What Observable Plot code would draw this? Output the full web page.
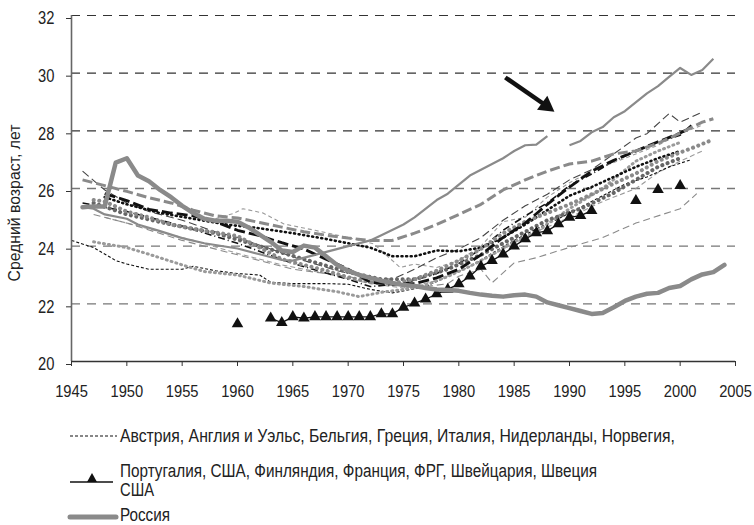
<!DOCTYPE html>
<html><head><meta charset="utf-8">
<script src="https://cdn.jsdelivr.net/npm/d3@7"></script>
<script src="https://cdn.jsdelivr.net/npm/@observablehq/plot@0.6"></script>
<style>
body{margin:0;background:#fff;}
#chart{position:relative;width:754px;height:525px;overflow:hidden;}
</style></head><body><div id="chart"></div>
<script>
const FONT = '"Liberation Sans", Arial, sans-serif';

// ---- tick labels / texts ----
const xTicks = [1945,1950,1955,1960,1965,1970,1975,1980,1985,1990,1995,2000,2005];
const yTicks = [20,22,24,26,28,30,32];
const yLabel = "Средний возраст, лет";
const legendRow1 = "Австрия, Англия и Уэльс, Бельгия, Греция, Италия, Нидерланды, Норвегия,";
const legendRow2a = "Португалия, США, Финляндия, Франция, ФРГ, Швейцария, Швеция";
const legendRow2b = "США";
const legendRow3 = "Россия";

// ---- series values [year, mean age] ----
const russia = [[1946,25.35],[1947,25.38],[1948,25.38],[1949,26.9],[1950,27.05],[1951,26.45],[1952,26.25],[1953,25.95],[1954,25.7],[1955,25.4],[1956,25.15],[1957,24.95],[1958,24.88],[1959,24.88],[1960,24.85],[1961,24.65],[1962,24.4],[1963,24.15],[1964,23.85],[1965,23.8],[1966,24.02],[1967,23.95],[1968,23.65],[1969,23.35],[1970,23.15],[1971,23.0],[1972,22.9],[1973,22.8],[1974,22.72],[1975,22.65],[1976,22.62],[1977,22.55],[1978,22.5],[1979,22.48],[1980,22.45],[1981,22.38],[1982,22.32],[1983,22.28],[1984,22.25],[1985,22.3],[1986,22.32],[1987,22.25],[1988,22.05],[1989,21.95],[1990,21.85],[1991,21.75],[1992,21.65],[1993,21.68],[1994,21.88],[1995,22.1],[1996,22.25],[1997,22.35],[1998,22.38],[1999,22.55],[2000,22.62],[2001,22.85],[2002,23.02],[2003,23.1],[2004,23.35]];

const usa = [[1960,21.3],[1963,21.5],[1964,21.35],[1965,21.55],[1966,21.5],[1967,21.55],[1968,21.55],[1969,21.55],[1970,21.55],[1971,21.55],[1972,21.55],[1973,21.65],[1974,21.65],[1975,21.88],[1976,22.02],[1977,22.16],[1978,22.34],[1979,22.5],[1980,22.69],[1981,22.96],[1982,23.3],[1983,23.5],[1984,23.72],[1985,24.0],[1986,24.25],[1987,24.46],[1988,24.53],[1989,24.77],[1990,25.0],[1991,25.06],[1992,25.23],[1996,25.58],[1998,25.96],[2000,26.1]];

const seriesA = [[1946,25.35],[1947,25.3],[1948,25.1],[1950,24.95],[1951,24.75],[1953,24.52],[1955,24.28],[1957,24.1],[1960,23.92],[1962,23.72],[1964,23.52],[1965,23.5],[1967,23.7],[1970,24.0],[1972,24.2],[1973,24.38],[1975,24.75],[1976,25.0],[1978,25.6],[1979,25.82],[1981,26.45],[1983,26.85],[1984,27.05],[1985,27.3],[1986,27.5],[1987,27.52],[1988,27.82],[1989,null],[1990,27.5],[1991,27.65],[1992,27.95],[1993,28.13],[1994,28.47],[1995,28.68],[1997,29.3],[1998,29.55],[1999,29.87],[2000,30.18],[2001,29.94],[2002,30.11],[2003,30.5]];

const seriesB = [[1946,26.3],[1948,26.1],[1950,25.9],[1952,25.68],[1954,25.5],[1956,25.25],[1958,25.05],[1960,24.98],[1962,24.82],[1964,24.66],[1966,24.5],[1968,24.38],[1970,24.28],[1972,24.2],[1974,24.2],[1976,24.45],[1978,24.75],[1980,25.1],[1982,25.45],[1984,25.95],[1986,26.3],[1988,26.6],[1990,26.85],[1992,26.95],[1994,27.2],[1996,27.3],[1998,27.57],[2000,27.92],[2002,28.3],[2003,28.42]];

const seriesC = [[1948,25.82],[1950,25.58],[1952,25.28],[1954,25.15],[1956,25.05],[1958,24.85],[1960,24.55],[1962,24.36],[1964,24.12],[1966,23.9],[1968,23.55],[1970,23.2],[1972,22.75],[1974,22.68],[1976,22.7],[1978,22.9],[1980,23.2],[1982,23.7],[1984,24.3],[1986,24.8],[1988,25.45],[1990,26.05],[1992,26.6],[1994,26.98],[1996,27.3],[1998,27.62],[2000,27.92],[2001,28.13]];

const seriesD = [[1947,25.6],[1948,25.55],[1950,25.2],[1952,25.0],[1954,24.75],[1956,24.6],[1958,24.48],[1960,24.35],[1962,23.95],[1964,23.55],[1966,23.35],[1968,23.15],[1970,22.92],[1972,22.75],[1974,22.7],[1976,22.85],[1978,23.15],[1980,23.5],[1982,23.9],[1984,24.45],[1986,24.85],[1988,25.15],[1990,25.45],[1992,25.8],[1994,26.17],[1996,26.52],[1998,26.95],[2000,27.25],[2001,27.39],[2003,27.7]];

const seriesD2 = [[1947,25.5],[1950,25.1],[1954,24.75],[1958,24.45],[1962,24.0],[1966,23.55],[1970,23.1],[1973,22.85],[1976,22.85],[1979,23.2],[1982,23.7],[1985,24.3],[1988,24.9],[1991,25.3],[1994,25.85],[1996,26.3],[1998,26.75],[2000,27.05]];

const seriesE = [[1948,25.7],[1950,25.45],[1953,25.15],[1956,24.95],[1959,24.75],[1962,24.62],[1965,24.45],[1968,24.25],[1970,24.1],[1972,23.95],[1974,23.65],[1976,23.65],[1978,23.85],[1980,23.82],[1982,23.95],[1984,24.3],[1986,24.75],[1988,25.25],[1990,25.75],[1992,26.05],[1994,26.4],[1996,26.75],[1998,27.05],[2000,27.3]];

const seriesF = [[1945,24.2],[1947,23.95],[1949,23.5],[1950,23.38],[1952,23.2],[1955,23.2],[1956,23.3],[1958,23.15],[1960,23.05],[1962,23.0],[1963,22.75],[1965,22.7],[1968,22.7],[1970,22.68],[1972,22.5],[1974,22.38],[1975,22.45],[1977,22.6],[1979,22.95],[1981,23.3],[1983,23.75],[1985,24.2],[1987,24.6],[1989,24.95],[1991,25.35],[1993,25.75],[1995,26.15],[1997,26.4],[1999,26.75],[2001,27.0]];

const seriesG = [[1947,24.15],[1950,23.95],[1952,23.72],[1955,23.35],[1957,23.12],[1960,23.0],[1963,22.72],[1966,22.6],[1969,22.42],[1971,22.25],[1973,22.4],[1975,22.5],[1977,22.65],[1979,22.95],[1981,23.3],[1983,23.7],[1985,24.15],[1987,24.5],[1990,25.3],[1993,26.0],[1996,26.95],[1998,27.3],[2000,27.6]];

const seriesH = [[1947,25.1],[1950,24.8],[1955,24.2],[1960,23.7],[1965,23.2],[1970,22.95],[1973,22.7],[1975,22.65],[1977,22.6],[1979,22.7],[1980,22.96],[1982,23.2],[1983,22.73],[1985,23.42],[1987,23.6],[1989,23.84],[1993,24.3],[1996,24.8],[2000,25.3],[2001.5,25.82]];

const seriesK = [[1946,26.6],[1948,25.95],[1950,25.5],[1952,25.2],[1955,24.9],[1958,24.5],[1960,24.3],[1963,23.9],[1966,23.5],[1969,23.15],[1972,22.9],[1974,22.85],[1976,23.2],[1978,23.6],[1980,23.9],[1982,24.3],[1984,24.9],[1986,25.4],[1988,25.8],[1990,26.3],[1992,26.65],[1994,27.2],[1996,27.75],[1997,27.9],[1999,28.6],[2000,28.3],[2002,28.65]];

const seriesJ = [[1958,24.95],[1959.6,25.13],[1960.5,25.3],[1962.3,25.15],[1964.2,24.77],[1967,24.55],[1970,24.3],[1972.3,24.08],[1974.7,23.26],[1976,23.38],[1978,23.26],[1980,23.5],[1982,24.0],[1984,24.85],[1986,25.0],[1988,25.7],[1990,26.2],[1992,26.6],[1994,26.9],[1996,27.2],[1998,27.5],[2000,27.9],[2002,28.2]];

const seriesM = [[1946,25.5],[1950,25.2],[1955,24.7],[1960,24.1],[1965,23.4],[1970,22.85],[1972,22.6],[1975,22.7],[1978,23.05],[1980,23.4],[1982,23.9],[1984,24.55],[1986,25.05],[1988,25.5],[1990,26.1],[1992,26.5],[1994,26.95],[1996,27.3],[1998,27.6],[2000,27.85],[2001,28.2]];

const seriesN = [[1948,25.0],[1952,24.6],[1956,24.2],[1960,23.75],[1964,23.35],[1968,23.05],[1972,22.7],[1975,22.55],[1978,22.8],[1981,23.3],[1984,23.9],[1987,24.5],[1990,25.0],[1993,25.55],[1996,26.0],[1998,26.55],[2000,26.95],[2002,27.3]];

// annotation arrow (data units): tail, head centroid
const arrowData = [{x1:1984.2, y1:29.85, x2:1987.9, y2:28.87}];

// ---- styles ----
const lineStyles = [
  {data: seriesN, stroke:"#9a9a9a", w:1.1, dash:"5,3"},
  {data: seriesH, stroke:"#8a8a8a", w:1.1, dash:"7,4"},
  {data: seriesJ, stroke:"#9a9a9a", w:1.1, dash:"4,3"},
  {data: seriesK, stroke:"#444", w:1.1, dash:"8,4"},
  {data: seriesF, stroke:"#111", w:1.1, dash:"3,2"},
  {data: seriesG, stroke:"#9a9a9a", w:3, dash:"1,4", cap:"round"},
  {data: seriesM, stroke:"#111", w:1.6, dash:"7,3,1,3"},
  {data: seriesE, stroke:"#111", w:2.6, dash:"1,3.6", cap:"round"},
  {data: seriesD2, stroke:"#666", w:4, dash:"0.1,5.5", cap:"round"},
  {data: seriesD, stroke:"#8a8a8a", w:4, dash:"0.1,5.5", cap:"round"},
  {data: seriesC, stroke:"#111", w:2.8, dash:"11,4"},
  {data: seriesB, stroke:"#8a8a8a", w:3, dash:"10,4"},
  {data: seriesA, stroke:"#8a8a8a", w:2.2, dash:null}
];

const W = 754, H = 400;
const plot = Plot.plot({
  width: W, height: H,
  marginLeft: 71, marginRight: 19, marginTop: 15, marginBottom: 39,
  style: {fontFamily: FONT, color: "#222", background: "#fff", overflow: "visible"},
  x: {domain: [1945, 2005]},
  y: {domain: [20, 32]},
  marks: [
    Plot.ruleY([28,30,32], {stroke:"#333", strokeWidth:1.2, strokeDasharray:"9,7"}),
    Plot.ruleY([22,24,26], {stroke:"#777", strokeWidth:1.3, strokeDasharray:"9,7"}),
    ...lineStyles.map(s => Plot.line(s.data, {
      x: d => d[0], y: d => d[1], stroke: s.stroke, strokeWidth: s.w,
      strokeDasharray: s.dash, strokeLinecap: s.cap || "butt", curve: "linear"
    })),
    Plot.line(usa.filter(d => d[0] >= 1963 && d[0] <= 1992), {x: d => d[0], y: d => d[1], stroke: "#111", strokeWidth: 1.3}),
    Plot.dot(usa, {x: d => d[0], y: d => d[1], symbol: "triangle", fill: "#111", stroke: "none", r: 4.3}),
    Plot.line(russia, {x: d => d[0], y: d => d[1], stroke: "#8a8a8a", strokeWidth: 4.5, strokeLinejoin: "round"}),
    Plot.link(arrowData, {x1:"x1", y1:"y1", x2:"x2", y2:"y2", stroke:"#111", strokeWidth:4.5}),
    Plot.dot(arrowData, {x:"x2", y:"y2", symbol:"triangle", fill:"#111", stroke:"none", r:6.5, rotate:126}),
    Plot.ruleX([1945], {stroke:"#666", strokeWidth:1.6}),
    Plot.ruleY([20], {stroke:"#333", strokeWidth:1.3}),
    Plot.axisX({ticks: xTicks, tickSize: 5, tickPadding: 19, tickFormat: d => String(d), fontSize: 16, fontFamily: FONT, label: null, stroke:"#333"}),
    Plot.axisY({ticks: yTicks, tickSize: 5, tickPadding: 12, fontSize: 18, fontFamily: FONT, label: null, dy: 3, stroke:"#333"})
  ]
});
plot.style.position = "absolute";
plot.style.left = "0px";
plot.style.top = "0px";
const chart = document.getElementById("chart");
chart.appendChild(plot);

// narrow the tick labels (reference uses a condensed face)
d3.select(plot).selectAll("g[aria-label='y-axis tick label'] text").each(function() {
  const n = this.getComputedTextLength();
  if (n > 0) d3.select(this).attr("textLength", (n * 0.82).toFixed(1)).attr("lengthAdjust", "spacingAndGlyphs");
});
d3.select(plot).selectAll("g[aria-label='x-axis tick label'] text").each(function() {
  const n = this.getComputedTextLength();
  if (n > 0) d3.select(this).attr("textLength", (n * 0.92).toFixed(1)).attr("lengthAdjust", "spacingAndGlyphs");
});

// y axis title
d3.select(plot).append("text")
  .attr("transform", "translate(20,203) rotate(-90)")
  .attr("text-anchor", "middle")
  .attr("font-family", FONT).attr("font-size", 17).attr("fill", "#222")
  .attr("textLength", 157).attr("lengthAdjust", "spacingAndGlyphs")
  .text(yLabel);

// ---- legend ----
const lg = d3.select(chart).append("svg")
  .attr("width", W).attr("height", 125)
  .style("position", "absolute").style("left", "0px").style("top", "400px")
  .attr("font-family", FONT).attr("font-size", 18).attr("fill", "#222");

function ltext(x, y, s, len) {
  lg.append("text").attr("x", x).attr("y", y).attr("textLength", len)
    .attr("lengthAdjust", "spacingAndGlyphs").text(s);
}

lg.append("line").attr("x1", 70).attr("x2", 117).attr("y1", 36).attr("y2", 36)
  .attr("stroke", "#111").attr("stroke-width", 1.1).attr("stroke-dasharray", "3,2");
ltext(120, 42, legendRow1, 555);

lg.append("line").attr("x1", 70).attr("x2", 113).attr("y1", 82).attr("y2", 82)
  .attr("stroke", "#111").attr("stroke-width", 1.5);
lg.append("path").attr("d", "M92,73 L97,82 L87,82 Z").attr("fill", "#111");
ltext(120, 77, legendRow2a, 477);
ltext(120, 96, legendRow2b, 34);

lg.append("line").attr("x1", 70).attr("x2", 116).attr("y1", 117).attr("y2", 117)
  .attr("stroke", "#8a8a8a").attr("stroke-width", 5).attr("stroke-linecap", "round");
ltext(120, 121, legendRow3, 50);
</script>
</body></html>
